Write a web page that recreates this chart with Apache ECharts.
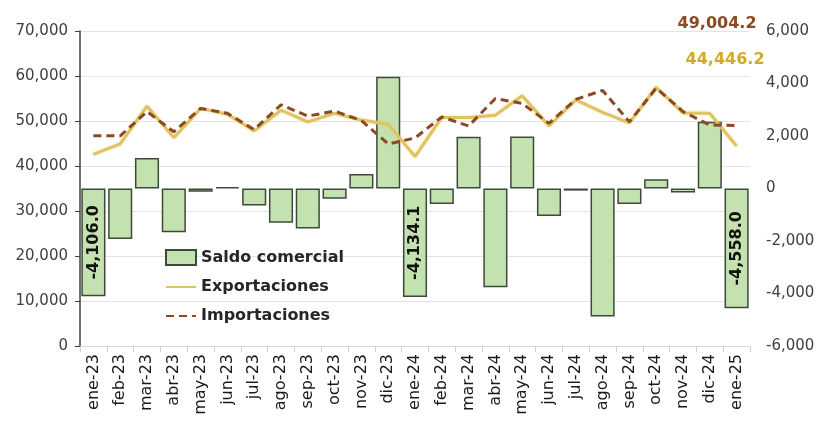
<!DOCTYPE html>
<html>
<head>
<meta charset="utf-8">
<script src="https://cdn.jsdelivr.net/npm/echarts@6/dist/echarts.min.js"></script>
<style>
  html, body { margin: 0; padding: 0; background: #ffffff; }
  #chart { width: 820px; height: 440px; }
</style>
</head>
<body>
<div id="chart"></div>
<script>
// Monthly trade figures (millions), January 2023 – January 2025
const months = ['ene-23','feb-23','mar-23','abr-23','may-23','jun-23','jul-23','ago-23','sep-23','oct-23','nov-23','dic-23',
                'ene-24','feb-24','mar-24','abr-24','may-24','jun-24','jul-24','ago-24','sep-24','oct-24','nov-24','dic-24','ene-25'];

const saldoComercial = [-4106.0, -1920, 1160, -1670, -120, 50, -650, -1300, -1520, -390, 550, 4260,
                        -4134.1, -590, 1970, -3765, 1980, -1050, -80, -4880, -590, 350, -150, 2545, -4558.0];

const exportaciones = [42600, 44900, 53300, 46300, 52800, 51500, 47800, 52400, 49800, 51700, 50200, 49300,
                       42100, 50800, 50800, 51300, 55600, 48900, 54700, 51900, 49600, 57500, 51800, 51700, 44446.2];

const importaciones = [46700, 46700, 52100, 47600, 52800, 51700, 48100, 53600, 51100, 52200, 50100, 44900,
                       46234, 50900, 48900, 55000, 53900, 49500, 54800, 56800, 49800, 57300, 52100, 49100, 49004.2];

// Months whose trade balance is written on the bar
const labelledMonths = ['ene-23', 'ene-24', 'ene-25'];

const leftTicks = { min: 0, max: 70000, interval: 10000 };
const rightTicks = { min: -6000, max: 6000, interval: 2000 };

const fmt1 = v => v.toLocaleString('en-US', { minimumFractionDigits: 1, maximumFractionDigits: 1 });
const fmt0 = v => v.toLocaleString('en-US', { maximumFractionDigits: 0 });

const FONT = 'DejaVu Sans';

const barData = saldoComercial.map((v, i) => {
  const item = { value: v };
  if (labelledMonths.includes(months[i])) {
    item.label = {
      show: true,
      position: 'inside',
      rotate: 90,
      formatter: p => fmt1(p.value),
      fontFamily: FONT,
      fontWeight: 'bold',
      fontSize: 16,
      color: '#111111'
    };
  }
  return item;
});

const chart = echarts.init(document.getElementById('chart'), null, { renderer: 'canvas' });

chart.setOption({
  animation: false,
  backgroundColor: '#ffffff',
  textStyle: { fontFamily: FONT },
  grid: { left: 80, right: 70, top: 31, bottom: 94, containLabel: false },
  legend: {
    orient: 'vertical',
    left: 160,
    top: 244,
    itemGap: 13,
    itemWidth: 30,
    itemHeight: 15,
    textStyle: { fontFamily: FONT, fontWeight: 'bold', fontSize: 16, color: '#262626' },
    data: [
      { name: 'Saldo comercial', icon: 'rect' },
      { name: 'Exportaciones', itemStyle: { opacity: 0 } },
      { name: 'Importaciones', itemStyle: { opacity: 0 } }
    ]
  },
  xAxis: {
    type: 'category',
    data: months,
    boundaryGap: true,
    axisLine: { show: true, lineStyle: { color: '#d9d9d9', width: 1 } },
    axisTick: { show: true, length: 6, lineStyle: { color: '#d0d0d0' } },
    axisLabel: { rotate: 90, fontSize: 16, color: '#1a1a1a', fontFamily: FONT, margin: 8, interval: 0 }
  },
  yAxis: [
    {
      type: 'value',
      position: 'left',
      min: leftTicks.min, max: leftTicks.max, interval: leftTicks.interval,
      axisLine: { show: true, lineStyle: { color: '#404040', width: 1.5 } },
      axisTick: { show: true, length: 5, lineStyle: { color: '#404040' } },
      axisLabel: { fontSize: 15, color: '#404040', fontFamily: FONT, margin: 12, formatter: v => fmt0(v) },
      splitLine: { show: true, lineStyle: { color: '#e3e3e3', width: 1 } }
    },
    {
      type: 'value',
      position: 'right',
      min: rightTicks.min, max: rightTicks.max, interval: rightTicks.interval,
      axisLine: { show: false },
      axisTick: { show: false },
      axisLabel: { fontSize: 15, color: '#404040', fontFamily: FONT, margin: 16, formatter: v => fmt0(v) },
      splitLine: { show: false }
    }
  ],
  series: [
    {
      name: 'Saldo comercial',
      type: 'bar',
      yAxisIndex: 1,
      data: barData,
      barCategoryGap: '10%',
      itemStyle: { color: '#c4e1b0', borderColor: '#3d4a38', borderWidth: 1.5 },
      z: 1
    },
    {
      name: 'Exportaciones',
      type: 'line',
      yAxisIndex: 0,
      data: exportaciones,
      symbol: 'none',
      lineStyle: { color: '#e0c25e', width: 3, shadowColor: 'rgba(230,205,120,0.6)', shadowBlur: 3 },
      itemStyle: { color: '#e0c25e' },
      endLabel: {
        show: true,
        offset: [-59, -86],
        formatter: p => fmt1(p.value),
        fontFamily: FONT, fontWeight: 'bold', fontSize: 16, color: '#d1aa2a'
      },
      z: 3
    },
    {
      name: 'Importaciones',
      type: 'line',
      yAxisIndex: 0,
      data: importaciones,
      symbol: 'none',
      lineStyle: { color: '#8a4a26', width: 3, type: [8, 5] },
      itemStyle: { color: '#8a4a26' },
      endLabel: {
        show: true,
        offset: [-67, -102],
        formatter: p => fmt1(p.value),
        fontFamily: FONT, fontWeight: 'bold', fontSize: 16, color: '#8b4a22'
      },
      z: 4
    }
  ]
});
</script>
</body>
</html>
